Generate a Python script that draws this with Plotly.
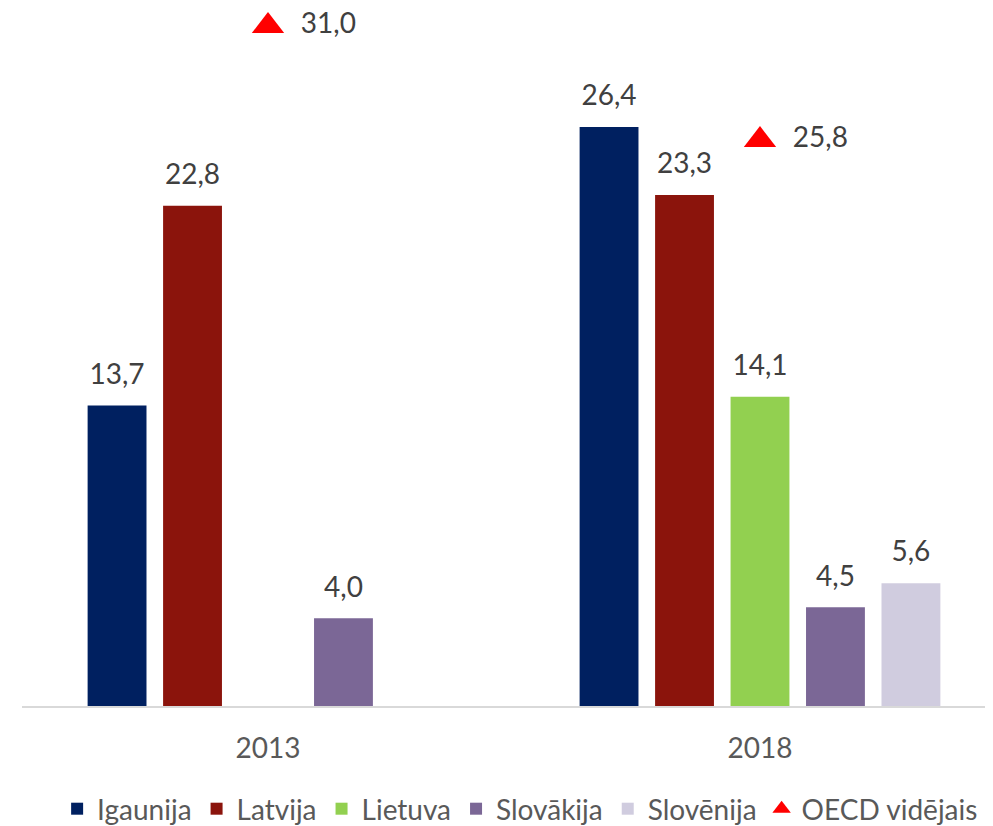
import plotly.graph_objects as go

years = ["2013", "2018"]
series_names = ["Igaunija", "Latvija", "Lietuva", "Slovākija", "Slovēnija"]
igaunija = [13.7, 26.4]
latvija = [22.8, 23.3]
lietuva = [None, 14.1]
slovakija = [4.0, 4.5]
slovenija = [None, 5.6]
oecd_avg = [31.0, 25.8]

colors = ["#002060", "#8B140C", "#92D050", "#7B6796", "#D0CCDF"]
font_family = "Lato"
label_color = "#404040"

fig = go.Figure()

all_values = [igaunija, latvija, lietuva, slovakija, slovenija]
for i, (name, values, color) in enumerate(zip(series_names, all_values, colors)):
    fig.add_trace(
        go.Bar(
            x=years,
            y=values,
            name=name,
            offsetgroup=str(i),
            marker=dict(color=color, line=dict(width=0)),
            hoverinfo="skip",
        )
    )

# data labels, grouped the same way as the bars
for i, (name, values) in enumerate(zip(series_names, all_values)):
    fig.add_trace(
        go.Scatter(
            x=years,
            y=values,
            offsetgroup=str(i),
            mode="markers+text",
            marker=dict(size=22, opacity=0),
            texttemplate="%{y:.1f}",
            textposition="top center",
            textfont=dict(family=font_family, size=28, color=label_color),
            showlegend=False,
            cliponaxis=False,
            hoverinfo="skip",
        )
    )

# OECD average as triangle markers (middle slot of each group)
fig.add_trace(
    go.Scatter(
        x=years,
        y=oecd_avg,
        name="OECD vidējais",
        offsetgroup="2",
        mode="markers+text",
        marker=dict(symbol="triangle-up", size=28, color="#FF0000"),
        texttemplate="  %{y:.1f}",
        textposition="middle right",
        textfont=dict(family=font_family, size=28, color=label_color),
        cliponaxis=False,
    )
)

fig.update_layout(
    width=993,
    height=826,
    barmode="group",
    bargap=0.233,
    bargroupgap=0.22,
    scattermode="group",
    scattergap=0.233,
    separators=", ",
    plot_bgcolor="white",
    paper_bgcolor="white",
    margin=dict(l=14, r=8, t=0, b=127),
    font=dict(family=font_family, size=28, color="#595959"),
    showlegend=True,
    legend=dict(
        orientation="h",
        x=0.513,
        xanchor="center",
        y=-0.1474,
        yanchor="middle",
        font=dict(family=font_family, size=28, color="#595959"),
        itemwidth=30,
        traceorder="normal",
    ),
    xaxis=dict(
        range=[-0.5, 1.4736],
        showline=True,
        linecolor="#D9D9D9",
        linewidth=1.5,
        showgrid=False,
        ticks="",
        ticklabelstandoff=17,
        tickfont=dict(family=font_family, size=28, color="#595959"),
    ),
    yaxis=dict(
        range=[0, 31.82],
        visible=False,
        showgrid=False,
        zeroline=False,
    ),
)

fig.write_html("out.html")
